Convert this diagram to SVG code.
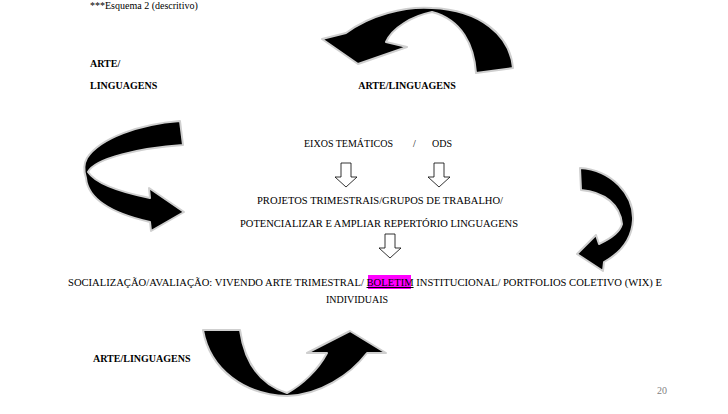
<svg xmlns="http://www.w3.org/2000/svg" width="728" height="414" viewBox="0 0 728 414">
<style>
text{font-family:"Liberation Serif","Times New Roman","DejaVu Serif",serif;fill:#000;font-size:10px}
.b{font-weight:bold}
.c{text-anchor:middle}
.curve{fill:#000;stroke:#cfcfcf;stroke-width:2;stroke-linejoin:round}
.open{fill:#fff;stroke:#000;stroke-width:0.8;stroke-linejoin:miter}
</style>
<rect width="728" height="414" fill="#fff"/>
<g id="title"><text x="90" y="9">***Esquema 2 (descritivo)</text></g>
<g id="arte-left"><text class="b" x="90" y="67">ARTE/</text><text class="b" x="90" y="89">LINGUAGENS</text></g>
<g id="arte-top"><text class="b c" x="407" y="89">ARTE/LINGUAGENS</text></g>
<g id="eixos"><text x="304" y="147">EIXOS TEMÁTICOS</text><text x="413" y="147">/</text><text x="432" y="147">ODS</text></g>
<g id="projetos">
<text class="c" x="380" y="204" textLength="246" lengthAdjust="spacingAndGlyphs">PROJETOS TRIMESTRAIS/GRUPOS DE TRABALHO/</text>
<text class="c" x="379" y="227" textLength="278" lengthAdjust="spacingAndGlyphs">POTENCIALIZAR E AMPLIAR REPERTÓRIO LINGUAGENS</text>
</g>
<g id="socializacao">
<rect x="368" y="275" width="43" height="14" fill="#ff00ff"/>
<text x="68" y="286" textLength="594" lengthAdjust="spacingAndGlyphs">SOCIALIZAÇÃO/AVALIAÇÃO: VIVENDO ARTE TRIMESTRAL/ <tspan text-decoration="underline">BOLETIM</tspan> INSTITUCIONAL/ PORTFOLIOS COLETIVO (WIX) E</text>
<text class="c" x="357" y="303">INDIVIDUAIS</text>
</g>
<g id="arte-bottom"><text class="b" x="93" y="362">ARTE/LINGUAGENS</text></g>
<g id="page"><text x="657" y="394" style="fill:#7f7f7f">20</text></g>
<g id="connectors">
<path class="curve" d="M476,73 C474,45 462,20 432,12 C412,16 392,28 386,42 L407,47 L358,64 L322,39 L346,33 C370,15 405,6 432,8 C480,10 510,35 513,68 Z"/>
<path class="curve" d="M180,121 C140,124 100,138 87,158 C83,165 84,172 86,178 C88,200 115,214 150,222 L151,231 L184,212 L149,188 L150,198 C120,192 96,184 88,172 C95,158 140,148 183,145 Z"/>
<path class="curve" d="M580,168 C612,170 634,195 633,220 C632,238 622,252 604,262 L603,271 L577,254 L596,235 L599,244 C612,238 620,232 622,224 C620,205 605,192 581,190 Z"/>
<path class="curve" d="M203,330 C210,370 245,395 287,396 C320,395 350,375 367,353 L386,353 L350,331 L307,353 L327,353 C318,370 302,385 287,393 C262,385 245,365 240,330 Z"/>
<path class="open" d="M341,163 H351 V177 H357 L346,187 L335,177 H341 Z"/>
<path class="open" d="M434,163 H444 V177 H450 L439,187 L428,177 H434 Z"/>
<path class="open" d="M385,234 H395 V248 H401 L390,258 L379,248 H385 Z"/>
</g>
</svg>
